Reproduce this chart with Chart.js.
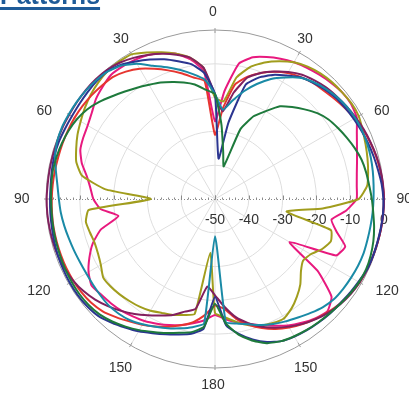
<!DOCTYPE html>
<html>
<head>
<meta charset="utf-8">
<script src="https://cdn.jsdelivr.net/npm/chart.js"></script>
<style>
  body { margin: 0; background: #fff; }
  #wrap { position: relative; width: 409px; height: 394px; overflow: hidden; }
  #title {
    position: absolute; left: 0; top: -17px;
    font: bold 25px "Liberation Sans", Arial, sans-serif; line-height: 24px;
    color: #1f5b98; text-decoration: underline; text-decoration-thickness: 3px;
    text-underline-offset: 3px; white-space: nowrap;
  }
</style>
</head>
<body>
<div id="wrap">
  <canvas id="c" width="409" height="394"></canvas>
  <div id="title">Patterns</div>
</div>
<script>
// angle of each sample, degrees clockwise from the top (right half 0-180, left half 180-360)
const angles = [];
for (let a = 0; a < 360; a += 5) angles.push(a);

const angleLabels = ['0', '30', '60', '90', '120', '150', '180', '150', '120', '90', '60', '30'];
const radialTicks = [-50, -40, -30, -20, -10, 0];

// gain in dB, one value per 5 degrees
const green = [
  -19, -28, -36, -40, -28, -23, -20, -16.5, -14.5, -12.5, -10.5, -9,
  -8, -7, -6, -5.1, -4.6, -4.2, -3.6, -3, -2.2, -1.5, -1, -0.7,
  -0.8, -1.2, -1.7, -2.1, -2.4, -2.7, -3.1, -3.6, -4.6, -6.6, -9.2, -13,
  -19, -12, -10, -9, -7.8, -6.6, -5.2, -3.9, -2.7, -1.7, -1.2, -1,
  -1, -1.1, -1.2, -1.3, -1.4, -1.5, -1.5, -1.4, -1.3, -1.5, -1.8, -2.2,
  -2.8, -3.8, -5.3, -7, -8.5, -9.8, -11, -12, -13.2, -14.3, -15.6, -17.5
];
const teal = [
  -19, -23.5, -20.5, -17, -13.8, -10.8, -8.5, -6.2, -4.8, -3.8, -3, -2.4,
  -2.1, -2, -2.1, -2.3, -2.6, -2.9, -3.1, -3.2, -3.3, -3.3, -3.2, -3.3,
  -3.5, -3.7, -4, -4.8, -6, -7.2, -8.2, -9.2, -10.3, -11.6, -12.6, -13.5,
  -39, -13, -11.5, -10.4, -9.3, -8.3, -7.2, -6.2, -5.7, -5.5, -5.7, -5.9,
  -6, -5.9, -5.6, -5.2, -4.7, -4.2, -3.8, -3.2, -2.2, -1, -0.3, 0,
  0, 0, -0.1, -0.3, -0.7, -1.8, -3.8, -6.5, -8.5, -10.5, -12.5, -14.5
];
const blue = [
  -19, -38, -27, -15, -11.7, -9.5, -7.8, -6, -5, -4.1, -3.4, -3,
  -2.6, -2.2, -1.8, -1.4, -1, -0.5, -0.2, -0.1, -0.2, -0.3, -0.3, -0.4,
  -1, -1.4, -1.8, -2, -2.3, -2.6, -3, -3.6, -5, -7, -9.5, -12.5,
  -21, -11.5, -9.5, -8.5, -7.4, -6.2, -4.8, -3.6, -2.3, -1.1, -0.6, -0.4,
  -0.4, -0.5, -0.6, -0.8, -1, -1.1, -1.2, -1.2, -1, -0.8, -0.8, -1,
  -1.1, -1, -0.8, -0.6, -0.6, -1.5, -3, -4.5, -6, -7.8, -9.5, -12.5
];
const purple = [
  -19, -24, -18, -12.8, -10.3, -8.4, -6.6, -5.1, -4.2, -3.4, -2.9, -2.4,
  -1.9, -1.4, -1, -0.6, -0.3, -0.1, 0, 0, -0.1, -0.2, -0.3, -0.4,
  -0.6, -1, -1.6, -2.5, -3.6, -4.9, -6.4, -8, -9.8, -12, -14.5, -18,
  -21.5, -24, -17, -15.5, -13.5, -12, -10.3, -8.5, -6.8, -5.2, -3.7, -2.5,
  -1.6, -1, -0.6, -0.4, -0.3, -0.2, -0.2, -0.3, -0.3, -0.3, -0.3, -0.2,
  -0.2, -0.1, 0, 0, -0.2, -0.8, -1.8, -3, -4.3, -5.8, -7.5, -11
];
const red = [
  -31, -23, -15.5, -12.5, -10.3, -8.5, -7, -5.9, -5.1, -4.6, -3.9, -3.1,
  -2.3, -1.6, -1.1, -0.7, -0.4, -0.2, 0, -0.1, -0.1, -0.2, -0.3, -0.4,
  -0.6, -1.1, -1.8, -2.7, -3.7, -4.8, -6.1, -7.6, -9.4, -11.5, -14, -17.3,
  -18.5, -15.5, -13, -11.3, -9.8, -8.4, -7, -5.8, -4.4, -3, -2.2, -1.8,
  -1.6, -1.5, -1.5, -1.5, -1.5, -1.6, -1.7, -1.8, -1.9, -2, -2, -2,
  -2, -2.1, -2.3, -2.6, -2.9, -4, -5.5, -7.5, -9.5, -11.5, -13.5, -15
];
const olive = [
  -20, -21, -13.5, -9.5, -7, -5, -3.3, -2.2, -1.5, -1.1, -0.9, -0.7,
  -0.9, -1.8, -2.6, -3.3, -4, -4.8, -7.5, -18, -28.5, -14.5, -13.5, -15,
  -17.3, -18.2, -16.8, -14.3, -12.3, -10.5, -9.2, -9.5, -10.2, -11.3, -13, -14.8,
  -16.3, -34, -15.5, -14.5, -13.5, -12.8, -11.8, -11.1, -10.6, -10.1, -9.7, -9.6,
  -11, -11.8, -12.1, -11.7, -11.2, -12.5, -31, -17.5, -10, -7.5, -6.3, -5.1,
  -4.1, -3, -2, -1.2, -0.6, -0.4, -0.6, -2.2, -3.8, -5.5, -7.5, -11
];
const pink = [
  -27, -18, -9.3, -6.6, -5.3, -4.2, -3.3, -2.6, -2, -1.4, -0.9, -0.9,
  -1.6, -3.7, -5.3, -6.5, -7.4, -7.9, -8.1, -11, -15, -12.8, -9, -10.5,
  -24.5, -13, -5, -3, -3.9, -5.3, -6.8, -8.6, -10.3, -11.8, -13, -14.3,
  -15.7, -14, -12.7, -11.4, -10.3, -9.3, -8.3, -7.6, -6.9, -6.4, -6, -5.4,
  -6.8, -9, -11.5, -15, -21, -16, -14, -13, -11.5, -9.2, -7.6, -7,
  -6.5, -5.5, -4, -3, -2.1, -2.2, -2.5, -3, -4, -5.5, -8, -12
];

const series = [
  { data: green, color: '#1e7a3c' },
  { data: teal, color: '#1a8aa6' },
  { data: blue, color: '#2b3590' },
  { data: purple, color: '#82205e' },
  { data: red, color: '#e63530' },
  { data: olive, color: '#a19d1d' },
  { data: pink, color: '#e8197e' },
];

// extra nudge of the angle labels: [outward px, down px], same on both halves
const labelNudge = [[0, -2], [-2.5, 3], [4, 6], [2.5, -1], [6.5, -6], [-3, 3], [0, -1]];

const frame = {
  id: 'frame',
  beforeDatasetsDraw(chart) {
    const s = chart.scales.r;
    const ctx = chart.ctx;
    const cx = s.xCenter, cy = s.yCenter;
    const R = s.getDistanceFromCenterForValue(0);
    ctx.save();
    // 90 - 90 axis, dotted with ticks
    ctx.strokeStyle = '#8a8a8a';
    ctx.lineWidth = 1;
    ctx.setLineDash([1, 2]);
    ctx.beginPath();
    ctx.moveTo(cx - R, cy + 0.5);
    ctx.lineTo(cx + R, cy + 0.5);
    ctx.stroke();
    ctx.setLineDash([]);
    ctx.beginPath();
    for (let v = -50; v <= 0; v += 2) {
      const d = s.getDistanceFromCenterForValue(v);
      const h = v % 10 === 0 ? 3.5 : 1.5;
      for (const sgn of [-1, 1]) {
        ctx.moveTo(Math.round(cx + sgn * d) + 0.5, cy - h);
        ctx.lineTo(Math.round(cx + sgn * d) + 0.5, cy + 0.5);
      }
    }
    ctx.stroke();
    // small marks on the outer ring
    ctx.strokeStyle = '#9a9a9a';
    ctx.beginPath();
    angleLabels.forEach((t, k) => {
      const i = angles.indexOf(k * 30);
      const p1 = s.getPointPosition(i, R - 3);
      const p2 = s.getPointPosition(i, R + 2);
      ctx.moveTo(p1.x, p1.y);
      ctx.lineTo(p2.x, p2.y);
    });
    ctx.stroke();
    // labels
    ctx.fillStyle = '#333';
    ctx.font = '14px "Liberation Sans", Arial, sans-serif';
    ctx.textAlign = 'center';
    ctx.textBaseline = 'middle';
    radialTicks.forEach(v => {
      ctx.fillText(String(v), cx + s.getDistanceFromCenterForValue(v), cy + 21);
    });
    angleLabels.forEach((t, k) => {
      const i = angles.indexOf(k * 30);
      const a = angles[i] * Math.PI / 180;
      const hw = ctx.measureText(t).width / 2;
      const d = R + 12 + hw * Math.abs(Math.sin(a)) + 5 * Math.abs(Math.cos(a));
      const p = s.getPointPosition(i, d);
      const n = labelNudge[k <= 6 ? k : 12 - k];
      const side = Math.sign(p.x - cx);
      ctx.fillText(t, p.x - 2 + side * n[0], p.y + 1 + n[1]);
    });
    ctx.restore();
  }
};

new Chart(document.getElementById('c'), {
  type: 'radar',
  data: {
    labels: angles,
    datasets: series.map(s => ({
      data: s.data,
      borderColor: s.color,
      borderWidth: 2,
      pointRadius: 0,
      fill: false,
      tension: 0.15,
    })),
  },
  options: {
    responsive: false,
    animation: false,
    devicePixelRatio: 1,
    layout: { padding: { left: 46, right: 25, top: 30, bottom: 26 } },
    plugins: { legend: { display: false }, tooltip: { enabled: false } },
    scales: {
      r: {
        min: -50,
        max: 0,
        ticks: { display: false, stepSize: 10 },
        pointLabels: { display: false },
        grid: {
          circular: true,
          color: c => (c.tick && c.tick.value === 0 ? '#9a9a9a' : '#dedede'),
          lineWidth: 1,
        },
        angleLines: {
          color: '#dedede',
          lineWidth: c => (angles[c.index] % 30 === 0 && angles[c.index] % 180 !== 90 ? 1 : 0),
        },
      },
    },
  },
  plugins: [frame],
});
</script>
</body>
</html>
